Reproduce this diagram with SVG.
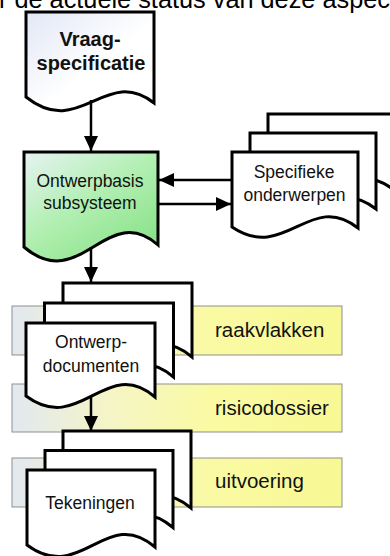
<svg xmlns="http://www.w3.org/2000/svg" xmlns:xlink="http://www.w3.org/1999/xlink" width="390" height="556" viewBox="0 0 390 556">
  <style>
    .pg { fill: #ffffff; stroke: #000000; stroke-width: 3; stroke-linejoin: miter; }
    .lbl { font-family: "Liberation Sans", Arial, sans-serif; font-size: 17.5px; fill: #111111; text-anchor: middle; }
    .band { stroke: #8f8f8f; stroke-width: 1; fill: url(#bandGrad); }
    .btxt { font-family: "Liberation Sans", Arial, sans-serif; font-size: 20.5px; fill: #111111; }
    .conn { stroke: #000000; stroke-width: 2.5; fill: none; marker-end: url(#arrow); }
  </style>
  <defs>
    <marker id="arrow" markerUnits="userSpaceOnUse" markerWidth="15" markerHeight="14" refX="15" refY="7" orient="auto">
      <path d="M0,0 L15,7 L0,14 Z" fill="#000000"/>
    </marker>
    <linearGradient id="bandGrad" x1="0" y1="0" x2="1" y2="0">
      <stop offset="0" stop-color="#e2e8f0"/>
      <stop offset="0.3" stop-color="#f5f5c6"/>
      <stop offset="0.6" stop-color="#fafaa4"/>
      <stop offset="1" stop-color="#f8f894"/>
    </linearGradient>
    <linearGradient id="greenGrad" x1="0" y1="0" x2="0.8" y2="1">
      <stop offset="0" stop-color="#e6f3f3"/>
      <stop offset="0.5" stop-color="#b2efb2"/>
      <stop offset="1" stop-color="#88e288"/>
    </linearGradient>
    <linearGradient id="vraagGrad" x1="0" y1="0" x2="1" y2="1">
      <stop offset="0" stop-color="#e2e7f6"/>
      <stop offset="0.55" stop-color="#ffffff"/>
    </linearGradient>
    <path id="specPage" d="M232,152 H358 V228 C310,190 285,263 232,227 Z"/>
    <path id="docPage" d="M26,323 H155 V397 C106,355 80,436 26,396 Z"/>
    <path id="tekPage" d="M27,470 H155 V547 C106,505 81,585 27,545 Z"/>
  </defs>

  <rect width="390" height="556" fill="#ffffff"/>

  <text x="-1" y="7.5" font-family="'Liberation Sans', Arial, sans-serif" font-size="25.3" fill="#000000">r de actuele status van deze aspecten</text>

  <g id="band-raakvlakken">
    <rect class="band" x="12" y="306" width="330" height="49"/>
    <text class="btxt" x="215" y="337">raakvlakken</text>
  </g>
  <g id="band-risicodossier">
    <rect class="band" x="12" y="384" width="330" height="48"/>
    <text class="btxt" x="215" y="415">risicodossier</text>
  </g>
  <g id="band-uitvoering">
    <rect class="band" x="12" y="458" width="330" height="49"/>
    <text class="btxt" x="215" y="488">uitvoering</text>
  </g>

  <g id="vraagspecificatie">
    <path class="pg" d="M26,12 H154 V103 C105,65 80,140 26,97 Z" style="fill:url(#vraagGrad)"/>
    <text x="90" y="46" font-family="'Liberation Sans', Arial, sans-serif" font-size="20" font-weight="bold" text-anchor="middle" fill="#111111">Vraag-</text>
    <text x="91" y="70" font-family="'Liberation Sans', Arial, sans-serif" font-size="20" font-weight="bold" text-anchor="middle" fill="#111111">specificatie</text>
  </g>

  <g id="ontwerpbasis">
    <path class="pg" d="M24,152 H158 V245 C107,200 80,295 24,247 Z" style="fill:url(#greenGrad)"/>
    <text class="lbl" x="90" y="187" font-size="18">Ontwerpbasis</text>
    <text class="lbl" x="90" y="209" font-size="18">subsysteem</text>
  </g>

  <g id="specifieke-onderwerpen">
    <use xlink:href="#specPage" href="#specPage" class="pg" x="36" y="-38"/>
    <use xlink:href="#specPage" href="#specPage" class="pg" x="18" y="-19"/>
    <use xlink:href="#specPage" href="#specPage" class="pg"/>
    <text class="lbl" x="294" y="177.5">Specifieke</text>
    <text class="lbl" x="294.5" y="201">onderwerpen</text>
  </g>

  <g id="ontwerp-documenten">
    <use xlink:href="#docPage" href="#docPage" class="pg" x="37" y="-40"/>
    <use xlink:href="#docPage" href="#docPage" class="pg" x="18.5" y="-20"/>
    <use xlink:href="#docPage" href="#docPage" class="pg"/>
    <text class="lbl" x="91" y="348">Ontwerp-</text>
    <text class="lbl" x="91" y="372">documenten</text>
  </g>

  <g id="tekeningen">
    <use xlink:href="#tekPage" href="#tekPage" class="pg" x="36" y="-39"/>
    <use xlink:href="#tekPage" href="#tekPage" class="pg" x="18" y="-19.5"/>
    <use xlink:href="#tekPage" href="#tekPage" class="pg"/>
    <text class="lbl" x="90" y="509" font-size="18">Tekeningen</text>
  </g>

  <g id="connectors">
    <line class="conn" x1="91" y1="100" x2="91" y2="151"/>
    <line class="conn" x1="91" y1="247" x2="91" y2="282"/>
    <line class="conn" x1="91" y1="396" x2="91" y2="431"/>
    <line class="conn" x1="232" y1="180" x2="159" y2="180"/>
    <line class="conn" x1="158" y1="204" x2="231" y2="204"/>
  </g>
</svg>
